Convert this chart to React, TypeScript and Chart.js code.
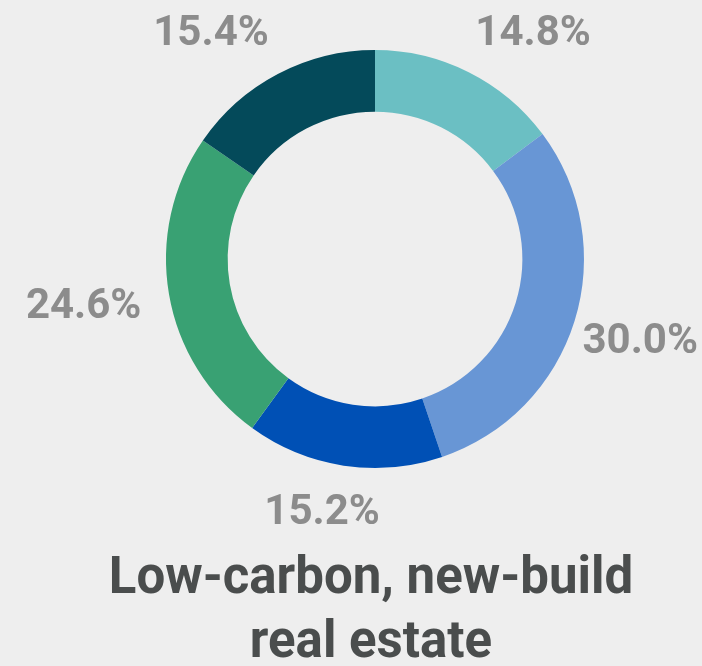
import React, { useEffect, useRef } from "react";
import { Chart, registerables } from "chart.js";

Chart.register(...registerables);

const categories = ["Segment A", "Segment B", "Segment C", "Segment D", "Segment E"];
const shares = [14.8, 30.0, 15.2, 24.6, 15.4];
const colors = ["#6bbfc3", "#6896d5", "#0050b5", "#39a173", "#044a5a"];
const titleLines = ["Low-carbon, new-build", "real estate"];

const labelPlugin = {
  id: "outsideLabels",
  afterDatasetsDraw(chart: any) {
    const ctx = chart.ctx;
    const meta = chart.getDatasetMeta(0);
    ctx.save();
    ctx.font = "bold 42px Roboto";
    ctx.fillStyle = "#8c8c8c";
    ctx.textAlign = "center";
    ctx.textBaseline = "middle";
    meta.data.forEach((arc: any, i: number) => {
      const p = arc.getProps(["x", "y", "startAngle", "endAngle", "outerRadius"], true);
      const mid = (p.startAngle + p.endAngle) / 2;
      const ux = Math.cos(mid);
      const uy = Math.sin(mid);
      const text = shares[i].toFixed(1) + "%";
      const w = ctx.measureText(text).width;
      const h = 36;
      const r = p.outerRadius + 28;
      const fx = Math.sign(ux) * Math.min(1, Math.abs(ux) * 2);
      const fy = Math.sign(uy) * Math.min(1, Math.abs(uy) * 2);
      let cx = p.x + ux * r + (w / 2) * fx;
      let cy = p.y + uy * r + (h / 2) * fy;
      cx = Math.min(Math.max(cx, w / 2 + 4), chart.width - w / 2 - 4);
      cy = Math.max(cy, h / 2 + 14);
      ctx.fillText(text, cx, cy + 2);
    });
    ctx.restore();
  },
};

const titlePlugin = {
  id: "bottomTitle",
  afterDraw(chart: any) {
    const ctx = chart.ctx;
    const area = chart.chartArea;
    const cx = (area.left + area.right) / 2 - 4;
    ctx.save();
    ctx.font = "bold 51px Roboto";
    ctx.fillStyle = "#4a4d4d";
    ctx.textAlign = "center";
    ctx.textBaseline = "alphabetic";
    titleLines.forEach((line, i) => {
      ctx.fillText(line, cx, area.bottom + 125 + i * 64);
    });
    ctx.restore();
  },
};

export default function App() {
  const ref = useRef<HTMLCanvasElement>(null);
  useEffect(() => {
    document.body.style.margin = "0";
    document.body.style.background = "#eeeeee";
    const chart = new Chart(ref.current!, {
      type: "doughnut",
      data: {
        labels: categories,
        datasets: [
          {
            data: shares,
            backgroundColor: colors,
            borderWidth: 0,
          },
        ],
      },
      options: {
        responsive: false,
        animation: false,
        cutout: "70.5%",
        layout: { padding: { left: 166, right: 118, top: 50, bottom: 198 } },
        plugins: {
          legend: { display: false },
          tooltip: { enabled: false },
          title: { display: false },
        },
      },
      plugins: [labelPlugin, titlePlugin],
    });
    return () => chart.destroy();
  }, []);
  return (
    <div style={{ width: 702, height: 666, background: "#eeeeee" }}>
      <canvas ref={ref} width={702} height={666} />
    </div>
  );
}
